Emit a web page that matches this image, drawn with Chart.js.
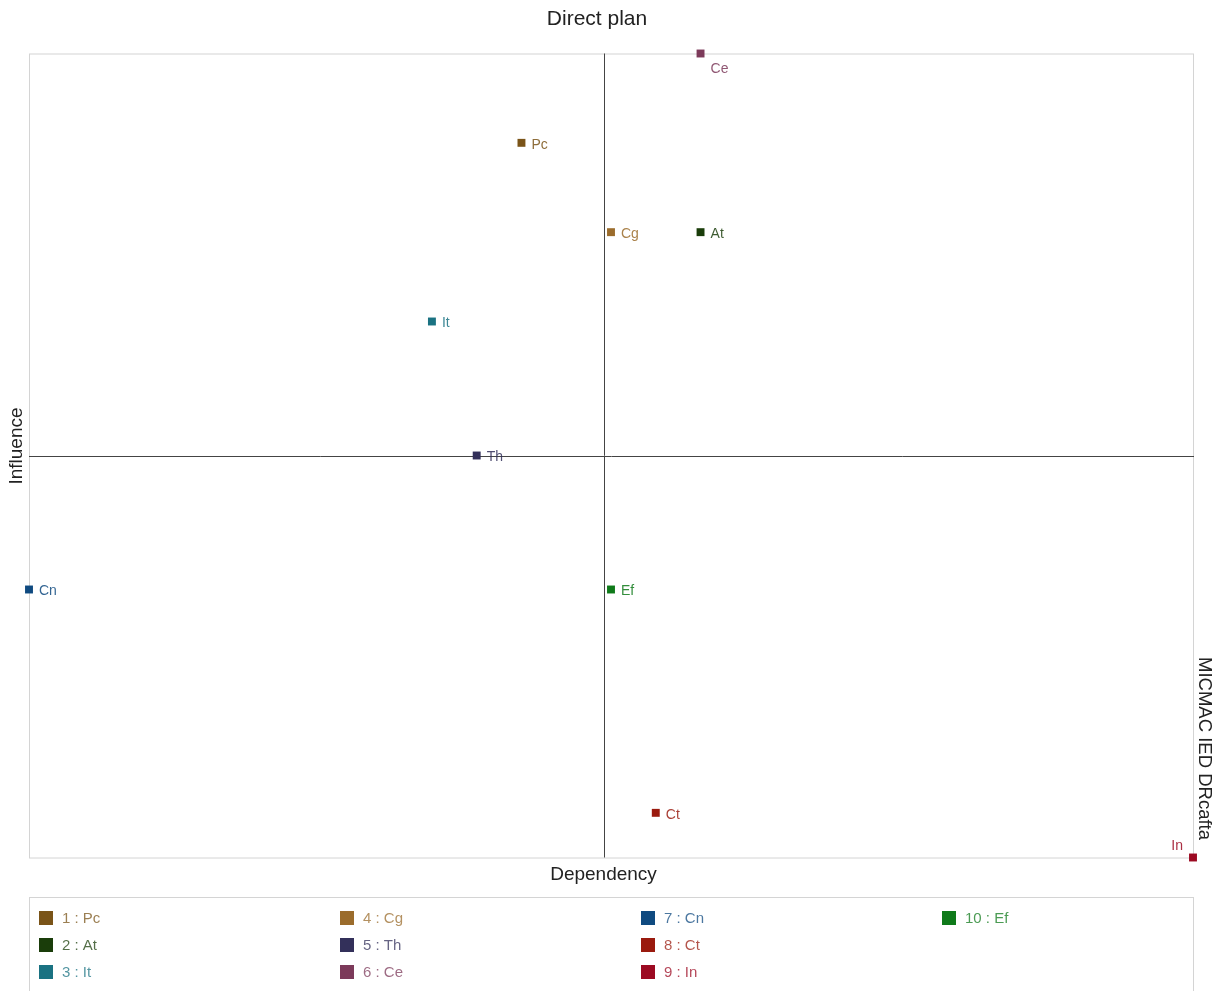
<!DOCTYPE html>
<html>
<head>
<meta charset="utf-8">
<script src="https://cdn.jsdelivr.net/npm/chart.js@4.4.0/dist/chart.umd.min.js"></script>
<style>
html,body{margin:0;padding:0;background:#fff;}
#wrap{width:1218px;height:991px;position:relative;}
</style>
</head>
<body>
<div id="wrap"><canvas id="c" width="1218" height="991"></canvas></div>
<script>
// ---- data ----
const codes = ['Pc','At','It','Cg','Th','Ce','Cn','Ct','In','Ef'];
const dependency = [13, 17, 11, 15, 12, 17, 2, 16, 28, 15];
const influence  = [21, 19, 17, 19, 14, 23, 11, 6, 5, 11];
const colors = ['#7a5418','#1a3d0a','#1a7282','#9b6c2c','#33305a','#7c3a5a','#0f4a80','#9a1a0e','#9c0a22','#0f7a1a'];
const crossDependency = 14.85;
const crossInfluence = 14;
const titleText = 'Direct plan';
const xTitle = 'Dependency';
const yTitle = 'Influence';
const sideText = 'MICMAC IED DRcafta';

const FONT = '"Liberation Sans", Arial, sans-serif';
// label placement style (not data)
const placement = {Ce:'below', In:'leftAbove'};

const datasets = codes.map((c,i)=>({
  label: (i+1)+' : '+c,
  data:[{x:dependency[i], y:influence[i]}],
  backgroundColor: colors[i],
  borderWidth:0,
  pointStyle:'rect',
  pointRadius:5.6,
  pointHoverRadius:5.6,
  clip:false
}));

function withAlpha(hex,a){
  const r=parseInt(hex.slice(1,3),16),g=parseInt(hex.slice(3,5),16),b=parseInt(hex.slice(5,7),16);
  return `rgba(${r},${g},${b},${a})`;
}

const decor = {
  id:'decor',
  beforeDatasetsDraw(chart){
    const {ctx, chartArea:a, scales:{x,y}} = chart;
    ctx.save();
    ctx.strokeStyle='#d4d4d4'; ctx.lineWidth=1;
    ctx.strokeRect(a.left+0.5, a.top+0.5, a.right-a.left, a.bottom-a.top);
    ctx.strokeStyle='#444'; ctx.lineWidth=1;
    const cx=Math.round(x.getPixelForValue(crossDependency))+0.5;
    const cy=Math.round(y.getPixelForValue(crossInfluence))+0.5;
    ctx.beginPath();
    ctx.moveTo(cx,a.top); ctx.lineTo(cx,a.bottom);
    ctx.moveTo(a.left,cy); ctx.lineTo(a.right+1,cy);
    ctx.stroke();
    ctx.restore();
  },
  afterDatasetsDraw(chart){
    const {ctx, chartArea:a, scales:{x,y}} = chart;
    ctx.save();
    ctx.font='14px '+FONT;
    codes.forEach((c,i)=>{
      const px=x.getPixelForValue(dependency[i]);
      const py=y.getPixelForValue(influence[i]);
      ctx.fillStyle=withAlpha(colors[i],0.85);
      ctx.textBaseline='middle';
      if(placement[c]==='below'){ctx.textAlign='left';ctx.fillText(c,px+10,py+16);}
      else if(placement[c]==='leftAbove'){ctx.textAlign='right';ctx.fillText(c,px-10,py-11);}
      else {ctx.textAlign='left';ctx.fillText(c,px+10,py+2);}
    });
    ctx.fillStyle='#222';
    ctx.textAlign='center'; ctx.textBaseline='middle';
    ctx.font='21px '+FONT;
    ctx.fillText(titleText,597,19);
    ctx.font='19px '+FONT;
    ctx.fillText(xTitle,603.5,875);
    ctx.save();
    ctx.translate(17,446); ctx.rotate(-Math.PI/2);
    ctx.fillText(yTitle,0,0);
    ctx.restore();
    ctx.save();
    ctx.font='18.5px '+FONT;
    ctx.translate(1204,748.5); ctx.rotate(Math.PI/2);
    ctx.fillText(sideText,0,0);
    ctx.restore();
    ctx.strokeStyle='#d4d4d4'; ctx.lineWidth=1;
    ctx.strokeRect(a.left+0.5,897.5,a.right-a.left,100);
    ctx.font='15px '+FONT;
    ctx.textAlign='left'; ctx.textBaseline='middle';
    codes.forEach((c,i)=>{
      const col=Math.floor(i/3), row=i%3;
      const lx=39+col*301, ly=918+row*27;
      ctx.fillStyle=colors[i];
      ctx.fillRect(lx,ly-7,14,14);
      ctx.fillStyle=withAlpha(colors[i],0.75);
      ctx.fillText((i+1)+' : '+c,lx+23,ly+1);
    });
    ctx.restore();
  }
};

new Chart(document.getElementById('c'),{
  type:'scatter',
  data:{datasets},
  options:{
    responsive:false,
    animation:false,
    devicePixelRatio:1,
    layout:{padding:{left:29,right:25,top:53.5,bottom:133.5}},
    plugins:{legend:{display:false},tooltip:{enabled:false},title:{display:false}},
    scales:{
      x:{type:'linear',min:Math.min(...dependency),max:Math.max(...dependency),display:false},
      y:{type:'linear',min:Math.min(...influence),max:Math.max(...influence),display:false}
    }
  },
  plugins:[decor]
});
</script>
</body>
</html>
